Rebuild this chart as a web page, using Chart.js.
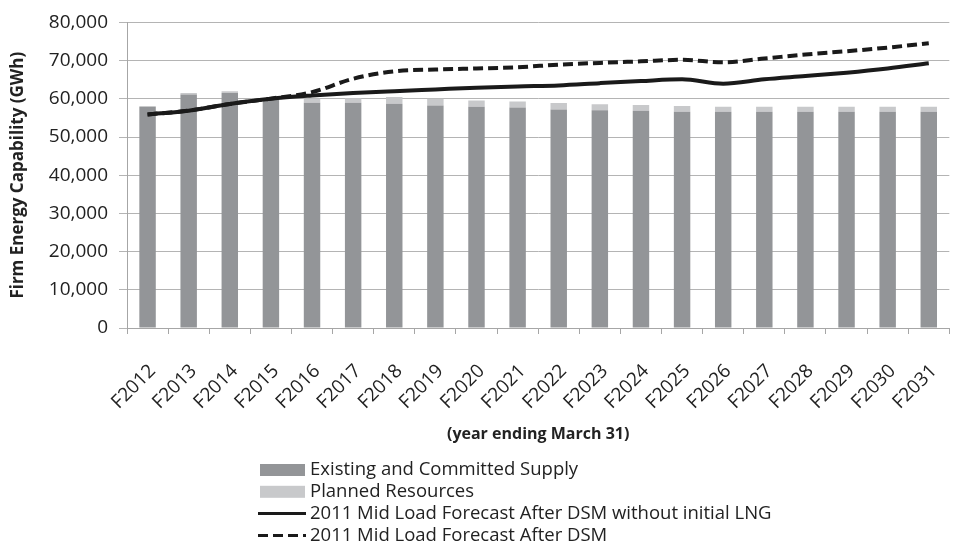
<!DOCTYPE html>
<html>
<head>
  <meta charset="UTF-8">
  <title>Firm Energy Capability</title>
  <script src="https://cdn.jsdelivr.net/npm/chart.js@4.4.1/dist/chart.umd.min.js"></script>
  <style>
    html, body { margin: 0; padding: 0; background: #fff; }
    #wrap { width: 971px; height: 546px; position: relative; }
  </style>
</head>
<body>
<div id="wrap"><canvas id="myChart"></canvas></div>

<script>
  // chart data
  var years = ['F2012', 'F2013', 'F2014', 'F2015', 'F2016', 'F2017', 'F2018', 'F2019', 'F2020', 'F2021',
               'F2022', 'F2023', 'F2024', 'F2025', 'F2026', 'F2027', 'F2028', 'F2029', 'F2030', 'F2031'];
  var existingSupply = [58000, 61100, 61500, 59900, 58950, 58950, 58700, 58250, 57950, 57700,
                        57200, 57000, 56850, 56600, 56600, 56600, 56600, 56600, 56600, 56600];
  var plannedResources = [0, 450, 500, 150, 1050, 1200, 1750, 1750, 1600, 1600,
                          1700, 1600, 1550, 1500, 1300, 1300, 1300, 1300, 1300, 1300];
  var forecastNoLNG = [55900, 56900, 58650, 60000, 60850, 61500, 62000, 62450, 62900, 63250,
                       63500, 64100, 64650, 65100, 63950, 65100, 65950, 66850, 67950, 69300];
  var forecastDSM = [55900, 56900, 58650, 60050, 61750, 65250, 67200, 67650, 67950, 68250,
                     68950, 69400, 69800, 70200, 69550, 70550, 71600, 72450, 73400, 74550];
  var yTicks = [0, 10000, 20000, 30000, 40000, 50000, 60000, 70000, 80000];

  var FONT = "'Open Sans', 'Noto Sans', sans-serif";

  // vertical legend, drawn under the axis title
  var stackedLegend = {
    id: 'stackedLegend',
    afterDraw: function (chart) {
      var ctx = chart.ctx;
      var sets = chart.data.datasets;
      var x0 = 260, x1 = 305, textX = 310;
      var y = 470;
      ctx.save();
      ctx.font = '18.5px ' + FONT;
      ctx.textBaseline = 'middle';
      for (var i = 0; i < sets.length; i++) {
        var ds = sets[i];
        if (ds.type === 'line') {
          ctx.strokeStyle = ds.borderColor;
          ctx.lineWidth = 3;
          ctx.setLineDash(ds.borderDash || []);
          ctx.beginPath();
          ctx.moveTo(x0 - 2, y);
          ctx.lineTo(x1 + 1, y);
          ctx.stroke();
          ctx.setLineDash([]);
        } else {
          ctx.fillStyle = ds.backgroundColor;
          ctx.fillRect(x0, y - 6, x1 - x0, 12);
        }
        ctx.fillStyle = '#222';
        ctx.fillText(ds.label, textX, y);
        y += 21.8;
      }
      ctx.restore();
    }
  };

  var ctx = document.getElementById('myChart');
  var myChart = new Chart(ctx, {
    type: 'bar',
    data: {
      labels: years,
      datasets: [
        {
          label: 'Existing and Committed Supply',
          data: existingSupply,
          backgroundColor: '#939598',
          stack: 'supply',
          barPercentage: 0.4,
          categoryPercentage: 1,
          order: 2
        },
        {
          label: 'Planned Resources',
          data: plannedResources,
          backgroundColor: '#c8c9cb',
          stack: 'supply',
          barPercentage: 0.4,
          categoryPercentage: 1,
          order: 2
        },
        {
          type: 'line',
          label: '2011 Mid Load Forecast After DSM without initial LNG',
          data: forecastNoLNG,
          borderColor: '#1a1a1a',
          borderWidth: 4,
          pointRadius: 0,
          cubicInterpolationMode: 'monotone',
          stack: 'line1',
          order: 0
        },
        {
          type: 'line',
          label: '2011 Mid Load Forecast After DSM',
          data: forecastDSM,
          borderColor: '#1a1a1a',
          borderWidth: 4,
          borderDash: [10, 5],
          pointRadius: 0,
          cubicInterpolationMode: 'monotone',
          stack: 'line2',
          order: 0
        }
      ]
    },
    options: {
      responsive: true,
      maintainAspectRatio: false,
      animation: false,
      layout: { padding: { top: 17, right: 4, left: 0, bottom: 98 } },
      plugins: {
        legend: { display: false },
        tooltip: { enabled: false }
      },
      scales: {
        x: {
          stacked: true,
          offset: true,
          grid: { display: true, drawOnChartArea: false, drawTicks: true, tickLength: 6, offset: true, color: '#a6a6a6' },
          border: { color: '#a6a6a6' },
          ticks: {
            color: '#222',
            font: { family: FONT, size: 19 },
            maxRotation: 45,
            minRotation: 45,
            padding: 26,
            labelOffset: 5,
            autoSkip: false
          },
          title: {
            display: true,
            text: '(year ending March 31)',
            color: '#222',
            font: { family: FONT, size: 16, weight: 'bold' },
            padding: { top: 4, bottom: 4 }
          },
          afterFit: function (scale) { scale.height = 120; }
        },
        y: {
          stacked: true,
          min: 0,
          max: 80000,
          afterBuildTicks: function (scale) {
            scale.ticks = yTicks.map(function (v) { return { value: v }; });
          },
          grid: { color: '#b4b4b4', tickLength: 8, drawTicks: true },
          border: { color: '#a6a6a6' },
          ticks: {
            color: '#222',
            font: { family: FONT, size: 19 },
            padding: 11,
            callback: function (v) { return Number(v).toLocaleString('en-US'); }
          },
          title: {
            display: true,
            text: 'Firm Energy Capability (GWh)',
            color: '#222',
            font: { family: FONT, size: 17, weight: 'bold' },
            padding: { top: 8, bottom: 4 }
          },
          afterFit: function (scale) { scale.width = 127; }
        }
      }
    },
    plugins: [stackedLegend]
  });
</script>
</body>
</html>
